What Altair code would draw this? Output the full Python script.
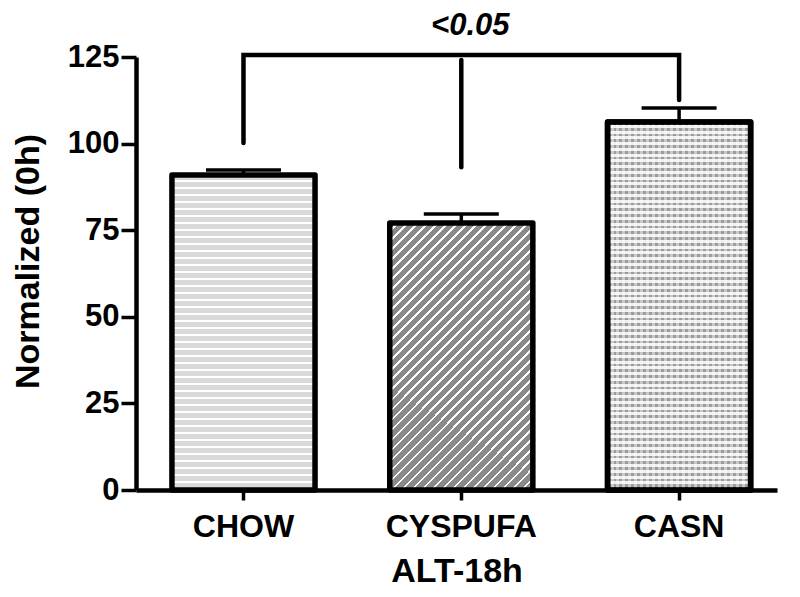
import altair as alt
import pandas as pd

# ---- data ----
categories = ["CHOW", "CYSPUFA", "CASN"]
means = [90.9, 77.1, 106.2]
sem = [1.5, 2.6, 4.1]

# significance bracket (in data units)
bracket_level = 125.6
bracket_leg_bottoms = [100.2, 93.2, 112.6]
middle_leg_top = 124.1
annot_label = "<0.05"
annot_level = 131.3

FONT = "Liberation Sans"

df = pd.DataFrame({"cat": categories, "mean": means, "sem": sem})
df["upper"] = df["mean"] + df["sem"]

bracket_df = pd.DataFrame({
    "cat": [categories[0], categories[0], categories[2], categories[2]],
    "y": [bracket_leg_bottoms[0], bracket_level, bracket_level, bracket_leg_bottoms[2]],
    "ord": [0, 1, 2, 3],
})
middle_df = pd.DataFrame({"cat": [categories[1]], "y": [middle_leg_top], "y2": [bracket_leg_bottoms[1]]})
annot_df = pd.DataFrame({"cat": [categories[1]], "y": [annot_level], "label": [annot_label]})


def stripes(c1, c2, n, frac, x1, y1, x2, y2):
    stops = []
    for i in range(n):
        a = i / n
        m = (i + 1 - frac) / n
        b = (i + 1) / n
        stops += [
            alt.GradientStop(offset=a, color=c1),
            alt.GradientStop(offset=m, color=c1),
            alt.GradientStop(offset=m, color=c2),
            alt.GradientStop(offset=b, color=c2),
        ]
    return alt.LinearGradient(gradient="linear", stops=stops, x1=x1, y1=y1, x2=x2, y2=y2)


fill_chow = stripes("#d9d9d9", "#ffffff", 45, 0.28, 0, 0, 0, 1)
fill_cys = stripes("#8a8a8a", "#ffffff", 41, 0.28, 0, 0, 0.640, 1.193)
fill_casn_h = stripes("#9c9c9c", "#f0f0f0", 64, 0.5, 0, 0, 0, 1)
fill_casn_v = stripes("rgba(255,255,255,0)", "rgba(255,255,255,0.45)", 24, 0.5, 0, 0, 1, 0)

xscale = alt.Scale(domain=categories, paddingInner=0.343, paddingOuter=0.143, align=0.577)
yscale = alt.Scale(domain=[0, 125], nice=False, zero=True)

x_axis = alt.Axis(
    labelAngle=0, tickSize=10, tickWidth=3.5, tickColor="black",
    domainColor="black", domainWidth=4.5,
    labelFont=FONT, labelFontSize=32, labelFontWeight="bold", labelColor="black",
    labelPadding=11, title="ALT-18h", titleFont=FONT, titleFontSize=34,
    titleFontWeight="bold", titleColor="black", titlePadding=12, grid=False,
)
y_axis = alt.Axis(
    values=[0, 25, 50, 75, 100, 125], tickSize=15, tickWidth=3.5, tickColor="black",
    domainColor="black", domainWidth=4.5,
    labelFont=FONT, labelFontSize=31, labelFontWeight="bold", labelColor="black",
    labelPadding=2, title="Normalized (0h)", titleFont=FONT, titleFontSize=34,
    titleFontWeight="bold", titleColor="black", grid=False,
    titleAngle=270, titleAlign="center", titleBaseline="middle", titleX=-108, titleY=204,
)


def X():
    return alt.X("cat:N", sort=categories, scale=xscale, axis=x_axis)


def Y(field):
    return alt.Y(field, type="quantitative", scale=yscale, axis=y_axis)


base = alt.Chart(df)

err_stem = base.mark_rule(color="black", strokeWidth=3.5).encode(
    x=X(), y=Y("mean"), y2="upper")
err_cap = base.mark_tick(color="black", size=75, thickness=3.5, orient="horizontal", opacity=1).encode(
    x=X(), y=Y("upper"))

bar_kw = dict(stroke="black", strokeWidth=5.5, strokeJoin="round")
bar_chow = base.transform_filter(alt.datum.cat == categories[0]).mark_bar(
    fill=fill_chow, **bar_kw).encode(x=X(), y=Y("mean"))
bar_cys = base.transform_filter(alt.datum.cat == categories[1]).mark_bar(
    fill=fill_cys, **bar_kw).encode(x=X(), y=Y("mean"))
bar_casn = base.transform_filter(alt.datum.cat == categories[2]).mark_bar(
    fill=fill_casn_h, **bar_kw).encode(x=X(), y=Y("mean"))
bar_casn_v = base.transform_filter(alt.datum.cat == categories[2]).mark_bar(
    fill=fill_casn_v, **bar_kw).encode(x=X(), y=Y("mean"))

bracket = alt.Chart(bracket_df).mark_line(
    color="black", strokeWidth=4.5, strokeCap="round", strokeJoin="miter").encode(
    x=X(), y=Y("y"), order="ord:Q")
middle = alt.Chart(middle_df).mark_rule(color="black", strokeWidth=4.5, strokeCap="round").encode(
    x=X(), y=Y("y"), y2="y2")
annot = alt.Chart(annot_df).mark_text(
    font=FONT, fontSize=31, fontWeight="bold", fontStyle="italic", color="black",
    baseline="alphabetic", align="center", dx=9).encode(x=X(), y=Y("y"), text="label:N")

chart = alt.layer(
    bar_chow, bar_cys, bar_casn, bar_casn_v, err_stem, err_cap, bracket, middle, annot
).properties(
    width=641, height=433,
    padding={"left": 128, "top": 49, "right": 10, "bottom": 100},
    autosize="none",
    background="white",
).configure_view(strokeWidth=0)

chart.save("out.html", embed_options={"renderer": "svg", "actions": False})
